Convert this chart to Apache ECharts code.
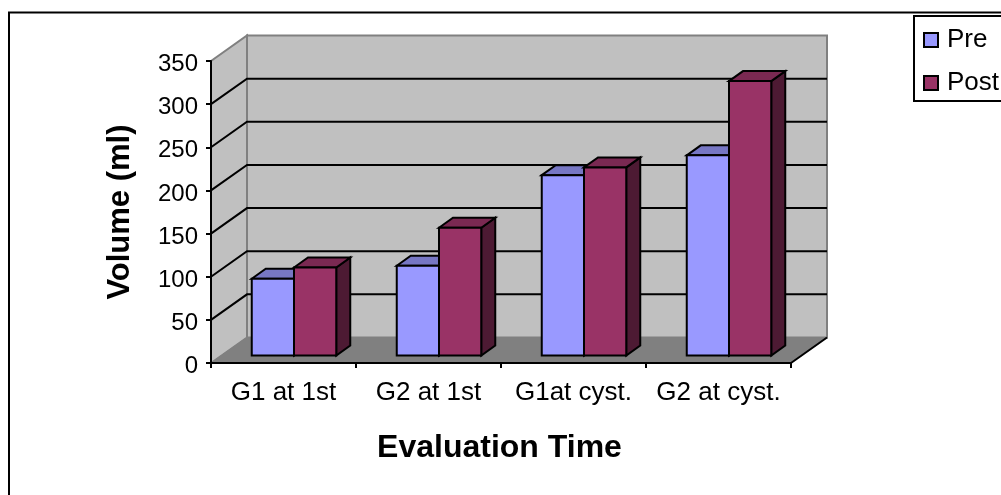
<!DOCTYPE html>
<html>
<head>
<meta charset="utf-8">
<title>Volume by evaluation time</title>
<script src="https://cdn.jsdelivr.net/npm/echarts@6/dist/echarts.min.js"></script>
<style>
  html, body { margin: 0; padding: 0; background: #fff; }
  #chart { width: 1001px; height: 495px; }
</style>
</head>
<body>
<div id="chart"></div>
<script>
const categories = ['G1 at 1st', 'G2 at 1st', 'G1at cyst.', 'G2 at cyst.']
const preValues = [89, 104, 209, 232]
const postValues = [102, 148, 218, 318]
const yTicks = [0, 50, 100, 150, 200, 250, 300, 350]

// oblique projection offsets of the fake 3D box, in pixels
const WALL_DX = 36
const WALL_DY = -25.5
const BAR_DX = 10.5
const BAR_DY = -7.5
const SIDE_DX = 14
const SIDE_DY = -10
const BAR_WIDTH = 42.25
const FONT = '"Liberation Sans", Arial, sans-serif'

const chart = echarts.init(document.getElementById('chart'))

function poly(points, fill, stroke, width) {
  return {
    type: 'polygon',
    shape: { points },
    style: { fill, stroke, lineWidth: width }
  }
}

function seg(points, color, width) {
  return {
    type: 'polyline',
    shape: { points },
    style: { fill: null, stroke: color, lineWidth: width }
  }
}

// back wall, left wall, floor and the gridlines running around them
function renderWalls(params, api) {
  const cs = params.coordSys
  const left = cs.x
  const right = cs.x + cs.width
  const top = cs.y
  const bottom = cs.y + cs.height
  const children = [
    poly([[left + WALL_DX, top + WALL_DY], [right + WALL_DX, top + WALL_DY], [right + WALL_DX, bottom + WALL_DY], [left + WALL_DX, bottom + WALL_DY]], '#c0c0c0', '#808080', 2),
    poly([[left, top], [left + WALL_DX, top + WALL_DY], [left + WALL_DX, bottom + WALL_DY], [left, bottom]], '#c0c0c0', '#808080', 2),
    poly([[left, bottom], [right, bottom], [right + WALL_DX, bottom + WALL_DY], [left + WALL_DX, bottom + WALL_DY]], '#808080', '#808080', 1)
  ]
  yTicks.slice(1, -1).forEach(function (t) {
    const y = api.coord([0, t])[1]
    children.push(seg([[left, y], [left + WALL_DX, y + WALL_DY], [right + WALL_DX, y + WALL_DY]], '#000', 2))
  })
  children.push(seg([[right, bottom], [right + WALL_DX, bottom + WALL_DY]], '#000', 2))
  return { type: 'group', children }
}

function barRenderer(side, front, topColor, sideColor) {
  return function (params, api) {
    const base = api.coord([api.value(0), 0])
    const tip = api.coord([api.value(0), api.value(1)])
    const x0 = base[0] + BAR_DX + (side < 0 ? -BAR_WIDTH : 0)
    const x1 = x0 + BAR_WIDTH
    const y0 = base[1] + BAR_DY
    const y1 = tip[1] + BAR_DY
    return {
      type: 'group',
      children: [
        poly([[x1, y1], [x1 + SIDE_DX, y1 + SIDE_DY], [x1 + SIDE_DX, y0 + SIDE_DY], [x1, y0]], sideColor, '#000', 2),
        poly([[x0, y1], [x0 + SIDE_DX, y1 + SIDE_DY], [x1 + SIDE_DX, y1 + SIDE_DY], [x1, y1]], topColor, '#000', 2),
        poly([[x0, y0], [x0, y1], [x1, y1], [x1, y0]], front, '#000', 2)
      ]
    }
  }
}

function toRows(values) {
  return values.map(function (v, i) { return [i, v] })
}

chart.setOption({
  animation: false,
  backgroundColor: '#fff',
  graphic: [{
    type: 'polyline',
    shape: { points: [[9, 495], [9, 12.5], [1001, 12.5]] },
    style: { fill: null, stroke: '#000', lineWidth: 2 }
  }],
  legend: {
    data: ['Pre', 'Post'],
    orient: 'vertical',
    left: 914,
    top: 16,
    padding: [11, 20, 5, 9],
    itemGap: 17,
    itemWidth: 14,
    itemHeight: 14,
    icon: 'rect',
    selectedMode: false,
    borderColor: '#000',
    borderWidth: 2,
    backgroundColor: '#fff',
    itemStyle: { borderColor: '#000', borderWidth: 2 },
    textStyle: { fontFamily: FONT, fontSize: 26, color: '#000', padding: [2, 0, 0, 4] }
  },
  grid: { left: 211, right: 210, top: 61, bottom: 132 },
  xAxis: {
    type: 'category',
    data: categories,
    z: 6,
    axisLine: { lineStyle: { color: '#000', width: 2 } },
    axisTick: { show: true, length: 5, lineStyle: { color: '#000', width: 2 } },
    axisLabel: { interval: 0, fontFamily: FONT, fontSize: 26, color: '#000', margin: 17 },
    name: 'Evaluation Time',
    nameLocation: 'middle',
    nameGap: 69,
    nameTextStyle: { fontFamily: FONT, fontSize: 32, fontWeight: 'bold', color: '#000', padding: [0, 3, 0, 0] }
  },
  yAxis: {
    type: 'value',
    min: 0,
    max: 350,
    interval: 50,
    z: 6,
    splitLine: { show: false },
    axisLine: { show: true, lineStyle: { color: '#000', width: 2 } },
    axisTick: { show: true, length: 5, lineStyle: { color: '#000', width: 2 } },
    axisLabel: {
      margin: 13,
      formatter: '{v|{value}}',
      rich: { v: { fontFamily: FONT, fontSize: 24, color: '#000', padding: [7, 0, 0, 0] } }
    },
    name: 'Volume (ml)',
    nameLocation: 'middle',
    nameGap: 75,
    nameTextStyle: { fontFamily: FONT, fontSize: 31, fontWeight: 'bold', color: '#000' }
  },
  series: [
    {
      name: 'walls',
      type: 'custom',
      z: 1,
      silent: true,
      clip: false,
      renderItem: renderWalls,
      data: [[0, 0]]
    },
    {
      name: 'Pre',
      type: 'custom',
      z: 3,
      clip: false,
      itemStyle: { color: '#9999ff', borderColor: '#000', borderWidth: 2 },
      renderItem: barRenderer(-1, '#9999ff', '#7777c4', '#4d4d80'),
      encode: { x: 0, y: 1 },
      data: toRows(preValues)
    },
    {
      name: 'Post',
      type: 'custom',
      z: 4,
      clip: false,
      itemStyle: { color: '#993366', borderColor: '#000', borderWidth: 2 },
      renderItem: barRenderer(1, '#993366', '#7a2952', '#4d1a33'),
      encode: { x: 0, y: 1 },
      data: toRows(postValues)
    }
  ]
})
</script>
</body>
</html>
